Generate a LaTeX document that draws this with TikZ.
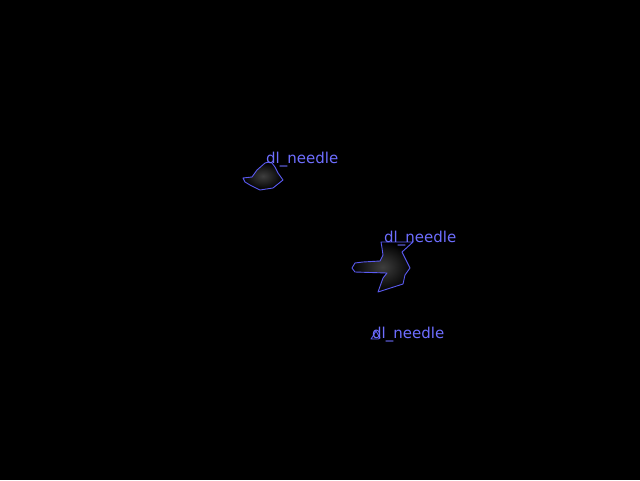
\documentclass[tikz,border=0pt]{standalone}
\usepackage{fontspec}
\setmainfont{DejaVu Sans}
\definecolor{lab}{RGB}{110,110,255}
\definecolor{edge}{RGB}{90,90,240}
\definecolor{blob}{RGB}{62,62,62}
\begin{document}
\begin{tikzpicture}[x=1pt,y=-1pt,
  outline/.style={draw=edge,line width=0.9pt,line join=round},
  blobfill/.style={inner color=blob,outer color=black},
  lbl/.style={text=lab,font=\fontsize{15}{17}\selectfont,inner sep=0pt,anchor=base west}]
\fill[black] (0,0) rectangle (640,480);
\useasboundingbox (0,0) rectangle (640,480);
% shape 1
\shade[blobfill] (269,162) -- (265,163) -- (257,170) -- (252,177) -- (243,178) -- (245,182) -- (250,185) -- (260,190) -- (273,188) -- (283,180) -- (278,173) -- (275,167) -- (272,163) -- cycle;
\draw[outline] (269,162) -- (265,163) -- (257,170) -- (252,177) -- (243,178) -- (245,182) -- (250,185) -- (260,190) -- (273,188) -- (283,180) -- (278,173) -- (275,167) -- (272,163) -- cycle;
% shape 2
\shade[blobfill] (381,242) -- (382,248) -- (383,255) -- (380,261) -- (363,262) -- (355,263) -- (352,268) -- (355,272) -- (387,273) -- (383,278) -- (378,292) -- (403,284) -- (405,275) -- (410,268) -- (402,252) -- (413,242) -- (397,242) -- cycle;
\draw[outline] (381,242) -- (382,248) -- (383,255) -- (380,261) -- (363,262) -- (355,263) -- (352,268) -- (355,272) -- (387,273) -- (383,278) -- (378,292) -- (403,284) -- (405,275) -- (410,268) -- (402,252) -- (413,242) -- (397,242) -- cycle;
% shape 3
\draw[outline] (376,331) -- (373,336) -- (371,339) -- (378,339) -- (380,338) -- cycle;
\node[lbl] (t1) at (266,163) {dl\_needle};
\node[lbl] (t2) at (384,242) {dl\_needle};
\node[lbl] (t3) at (372,338) {dl\_needle};
\end{tikzpicture}
\end{document}
